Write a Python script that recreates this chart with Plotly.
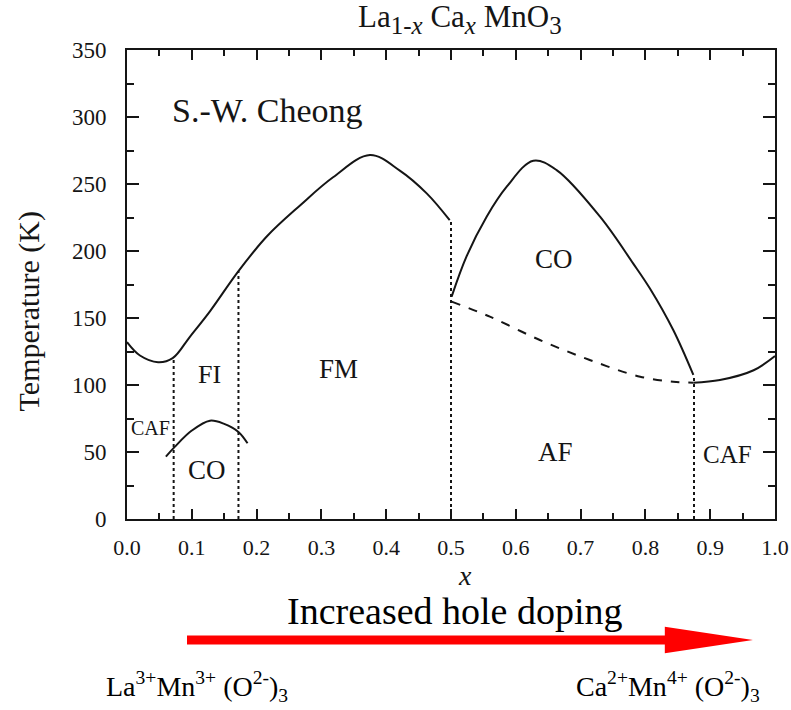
import plotly.graph_objects as go

# ---- data ----
# upper boundary (Tc / TN) left part
tc_x = [0.0, 0.020, 0.048, 0.0705, 0.097, 0.128, 0.172, 0.216, 0.267, 0.318, 0.375, 0.421, 0.4625, 0.498]
tc_T = [132, 122, 117, 120, 136, 155, 185, 211, 234, 255, 271.6, 260, 243, 223]

# charge-ordering dome (right)
co_x = [0.501, 0.524, 0.555, 0.586, 0.627, 0.663, 0.730, 0.781, 0.807, 0.843, 0.874]
co_T = [166, 196, 225.6, 248, 267.4, 260.4, 225.6, 190.8, 172, 141, 107.5]

# dashed AF boundary
af_x = [0.501, 0.560, 0.637, 0.714, 0.792, 0.843, 0.874]
af_T = [162.2, 151, 133.6, 118.7, 106.2, 102.5, 101.7]

# right CAF boundary
caf_x = [0.874, 0.915, 0.967, 1.0]
caf_T = [101.7, 103.7, 111, 121.6]

# lower CO curve (left)
lco_x = [0.060, 0.074, 0.100, 0.128, 0.150, 0.172, 0.186]
lco_T = [46.5, 54, 66, 73.4, 71, 65, 56.5]

# dotted phase separators
sep_x = [0.072, 0.172, 0.5, 0.875]
sep_top = [120, 185, 223, 107]

# region labels
lab_text = ["FI", "FM", "CO", "AF", "CAF", "CO", "CAF"]
lab_x = [0.127, 0.326, 0.659, 0.662, 0.926, 0.123, 0.037]
lab_T = [107.5, 112, 194, 50, 47.8, 36.6, 68]
lab_size = [26, 27, 27, 27, 25, 27, 20]

xticks = [0.0, 0.1, 0.2, 0.3, 0.4, 0.5, 0.6, 0.7, 0.8, 0.9, 1.0]
xtick_text = ["0.0", "0.1", "0.2", "0.3", "0.4", "0.5", "0.6", "0.7", "0.8", "0.9", "1.0"]
yticks = [0, 50, 100, 150, 200, 250, 300, 350]
ytick_text = ["0", "50", "100", "150", "200", "250", "300", "350"]

SERIF = "Liberation Serif"
INK = "#151515"

fig = go.Figure()
fig.add_trace(go.Scatter(x=tc_x, y=tc_T, mode="lines", line=dict(color=INK, width=2, shape="spline"), hoverinfo="skip"))
fig.add_trace(go.Scatter(x=co_x, y=co_T, mode="lines", line=dict(color=INK, width=2, shape="spline"), hoverinfo="skip"))
fig.add_trace(go.Scatter(x=af_x, y=af_T, mode="lines", line=dict(color=INK, width=2, shape="spline", dash="dash"), hoverinfo="skip"))
fig.add_trace(go.Scatter(x=caf_x, y=caf_T, mode="lines", line=dict(color=INK, width=2, shape="spline"), hoverinfo="skip"))
fig.add_trace(go.Scatter(x=lco_x, y=lco_T, mode="lines", line=dict(color=INK, width=2, shape="spline"), hoverinfo="skip"))

for sx, st in zip(sep_x, sep_top):
    fig.add_trace(go.Scatter(x=[sx, sx], y=[0, st], mode="lines",
                             line=dict(color=INK, width=2, dash="dot"), hoverinfo="skip"))

for t, lx, ly, s in zip(lab_text, lab_x, lab_T, lab_size):
    fig.add_annotation(x=lx, y=ly, text=t, showarrow=False, xanchor="center", yanchor="middle",
                       font=dict(family=SERIF, size=s, color=INK))

fig.add_annotation(x=0.216, y=305, text="S.-W. Cheong", showarrow=False,
                   xanchor="center", yanchor="middle",
                   font=dict(family=SERIF, size=34, color=INK))

def ann(x, y, text, size, color=INK, **kw):
    fig.add_annotation(xref="paper", yref="paper", x=x, y=y, text=text, showarrow=False,
                       xanchor="center", yanchor="middle",
                       font=dict(family=SERIF, size=size, color=color), **kw)

# title
ann(0.514, 1.0, "La<sub><span style='font-size:25px'>1-<i>x</i></span></sub> "
                "Ca<sub><span style='font-size:25px'><i>x</i></span></sub> "
                "MnO<sub><span style='font-size:25px'>3</span></sub>", 31, yshift=31)

# axis titles
ann(-0.151, 0.443, "Temperature (K)", 30, textangle=-90)
ann(0.522, -0.12, "<i>x</i>", 28)

# doping arrow + labels
ann(0.506, -0.196, "Increased hole doping", 38, color="#000")
fig.add_shape(type="line", xref="paper", yref="paper", x0=0.0926, x1=0.835, y0=-0.258, y1=-0.258,
              line=dict(color="#ff0000", width=9))
fig.add_shape(type="path", xref="paper", yref="paper",
              path="M 0.83,-0.2297 L 0.966,-0.258 L 0.83,-0.2863 Z",
              fillcolor="#ff0000", line=dict(color="#ff0000", width=0))
ann(0.108, -0.357, "La<sup>3+</sup>Mn<sup>3+</sup> (O<sup>2-</sup>)<sub>3</sub>", 28, color="#000")
ann(0.835, -0.357, "Ca<sup>2+</sup>Mn<sup>4+</sup> (O<sup>2-</sup>)<sub>3</sub>", 28, color="#000")

fig.update_layout(
    width=791, height=710,
    margin=dict(l=127, r=16, t=50, b=191, autoexpand=False),
    paper_bgcolor="white", plot_bgcolor="white",
    showlegend=False,
    font=dict(family=SERIF, color=INK),
    xaxis=dict(range=[0, 1.0], tickvals=xticks, ticktext=xtick_text, automargin=False,
               ticks="inside", ticklen=10, tickwidth=2, tickcolor=INK,
               showline=True, linewidth=2, linecolor=INK, mirror="allticks",
               showgrid=False, zeroline=False,
               minor=dict(ticks="inside", dtick=0.05, ticklen=6, tickwidth=2, tickcolor=INK),
               tickfont=dict(family=SERIF, size=22, color=INK), ticklabelstandoff=8),
    yaxis=dict(range=[0, 350], tickvals=yticks, ticktext=ytick_text, automargin=False,
               ticks="inside", ticklen=12, tickwidth=2, tickcolor=INK,
               showline=True, linewidth=2, linecolor=INK, mirror="allticks",
               showgrid=False, zeroline=False,
               minor=dict(ticks="inside", dtick=25, ticklen=7, tickwidth=2, tickcolor=INK),
               tickfont=dict(family=SERIF, size=23, color=INK), ticklabelstandoff=14),
)

fig.write_html("out.html")
